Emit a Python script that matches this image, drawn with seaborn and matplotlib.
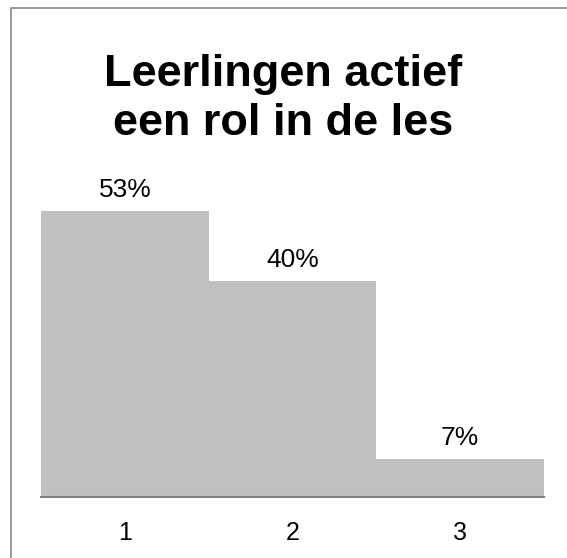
import matplotlib
matplotlib.use("Agg")
import matplotlib.pyplot as plt
import seaborn as sns
import pandas as pd
from matplotlib.patches import Rectangle

categories = ["1", "2", "3"]
values = [53, 40, 7]
labels = ["53%", "40%", "7%"]
title = "Leerlingen actief\neen rol in de les"

sns.set_style("white")
plt.rcParams["font.family"] = ["Liberation Sans", "DejaVu Sans"]
plt.rcParams["text.color"] = "black"
plt.rcParams["xtick.color"] = "black"

df = pd.DataFrame({"cat": categories, "val": values})

fig = plt.figure(figsize=(5.67, 5.58), dpi=100)
ax = fig.add_axes([41 / 567, 1 - 497 / 558, (544 - 41) / 567, (497 - 173) / 558])

sns.barplot(data=df, x="cat", y="val", color="#c0c0c0", width=1.0,
            saturation=1, ax=ax)
for patch in ax.patches:
    patch.set_edgecolor("none")

# value labels above each bar
for i, (v, lab) in enumerate(zip(values, labels)):
    ax.annotate(lab, (i, v), xytext=(0, 10), textcoords="offset points",
                ha="center", va="baseline", fontsize=19)

ax.set_xlim(-0.5, 2.5)
ax.set_ylim(0, 60)
ax.set_xlabel("")
ax.set_ylabel("")
ax.set_yticks([])
ax.tick_params(axis="x", length=0, labelsize=18, pad=17.5)
for s in ["top", "right", "left"]:
    ax.spines[s].set_visible(False)
ax.spines["bottom"].set_color("#808080")
ax.spines["bottom"].set_linewidth(1.5)

fig.text(0.5, 1 - 99 / 558, title, ha="center", va="center",
         fontsize=32.5, fontweight="bold", linespacing=1.25)

# figure border (only top and left visible in the reference)
fig.patches.append(Rectangle((11 / 567, -0.2), 1.5, 1.2 - 8 / 558,
                             transform=fig.transFigure, fill=False,
                             edgecolor="#888888", linewidth=1.2))

fig.savefig("out.png", dpi=100)
